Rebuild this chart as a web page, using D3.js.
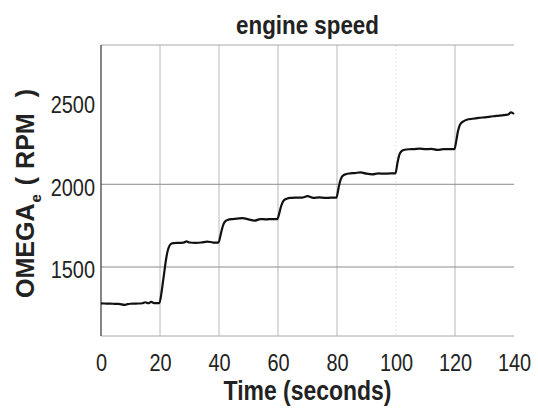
<!DOCTYPE html>
<html>
<head>
<meta charset="utf-8">
<script src="https://cdn.jsdelivr.net/npm/d3@7"></script>
<style>
  body { margin: 0; background: #fff; }
  text { font-family: "Liberation Sans", Arial, sans-serif; fill: #222; }
</style>
</head>
<body>
<div id="chart"></div>
<script>
// set the dimensions and margins of the graph
var margin = { top: 45, right: 24, bottom: 74, left: 101 },
  width = 538 - margin.left - margin.right,
  height = 410 - margin.top - margin.bottom;

// data
var time = [0, 2, 4, 6, 8, 9, 10, 12, 14, 15, 16, 17, 18, 19.8,
  20.5, 21, 21.5, 22, 22.5, 23, 23.5, 24.5, 26, 28, 29, 30, 32, 34, 36, 38, 39.8,
  40.5, 41, 41.5, 42, 43, 44.5, 46, 48, 50, 52, 54, 56, 58, 59.8,
  60.5, 61, 61.5, 62, 63, 64.5, 66, 68, 70, 72, 74, 76, 78, 79.8,
  80.5, 81, 81.5, 82, 83, 84.5, 86, 88, 90, 92, 94, 96, 98, 99.8,
  100.5, 101, 101.5, 102, 103, 104.5, 106, 108, 110, 112, 114, 116, 118, 119.8,
  120.5, 121, 121.5, 122, 123, 124, 126, 128, 130, 132, 134, 136, 138, 139, 140];
var rpm = [1280, 1279, 1278, 1277, 1271, 1276, 1278, 1279, 1281, 1287, 1281, 1289, 1282, 1282,
  1345, 1410, 1475, 1540, 1590, 1620, 1636, 1644, 1646, 1647, 1655, 1648, 1646, 1648, 1654, 1648, 1647,
  1690, 1728, 1758, 1774, 1785, 1790, 1792, 1796, 1788, 1780, 1790, 1788, 1790, 1790,
  1830, 1864, 1888, 1903, 1913, 1918, 1920, 1919, 1928, 1918, 1921, 1918, 1919, 1919,
  1975, 2015, 2040, 2052, 2061, 2066, 2068, 2072, 2064, 2060, 2066, 2064, 2066, 2066,
  2130, 2170, 2192, 2202, 2209, 2212, 2213, 2216, 2212, 2214, 2208, 2212, 2212, 2212,
  2270, 2320, 2352, 2368, 2382, 2390, 2396, 2401, 2405, 2409, 2414, 2417, 2422, 2435, 2425];
var xTicks = [0, 20, 40, 60, 80, 100, 120, 140];
var yTicks = [1500, 2000, 2500];
var yGrid = [1500, 2000];
var xGrid = [20, 40, 60, 80, 100, 120];

var narrow = 0.83; // the source font is a condensed one

var svg = d3
  .select("#chart")
  .append("svg")
  .attr("width", 538)
  .attr("height", 410);

var canvas = svg
  .append("g")
  .attr("transform", "translate(" + margin.left + "," + margin.top + ")");

var x = d3.scaleLinear().domain([0, 140]).range([0, width]);
var y = d3.scaleLinear().domain([1083, 2842]).range([height, 0]);

// grid lines
canvas
  .selectAll(".vgrid")
  .data(xGrid)
  .enter()
  .append("line")
  .attr("class", "vgrid")
  .attr("x1", (d) => x(d))
  .attr("x2", (d) => x(d))
  .attr("y1", 0)
  .attr("y2", height)
  .attr("stroke", (d) => (d == 100 ? "#e4e4e4" : "#b8b8b8"))
  .attr("stroke-dasharray", (d) => (d == 100 ? "2,2" : null))
  .attr("stroke-width", 1);

canvas
  .selectAll(".hgrid")
  .data(yGrid)
  .enter()
  .append("line")
  .attr("class", "hgrid")
  .attr("x1", 0)
  .attr("x2", width)
  .attr("y1", (d) => y(d))
  .attr("y2", (d) => y(d))
  .attr("stroke", "#8a8a8a")
  .attr("stroke-width", 1);

// box: top and bottom gray, left dark
canvas.append("line").attr("x1", 0).attr("x2", width).attr("y1", 0).attr("y2", 0)
  .attr("stroke", "#a8a8a8");
canvas.append("line").attr("x1", 0).attr("x2", width).attr("y1", height).attr("y2", height)
  .attr("stroke", "#a8a8a8");
canvas.append("line").attr("x1", 0).attr("x2", 0).attr("y1", 0).attr("y2", height)
  .attr("stroke", "#333").attr("stroke-width", 1.2);

// axes (labels only)
var xAxis = canvas
  .append("g")
  .attr("transform", "translate(0," + height + ")")
  .call(d3.axisBottom(x).tickValues(xTicks).tickFormat(d3.format("d")).tickSize(0).tickPadding(18));
xAxis.select(".domain").remove();
xAxis.selectAll("text")
  .style("font-size", "24px")
  .attr("fill", "#222")
  .attr("transform", "scale(" + narrow + ",1)");

var yAxis = canvas
  .append("g")
  .call(d3.axisLeft(y).tickValues(yTicks).tickFormat(d3.format("d")).tickSize(0));
yAxis.select(".domain").remove();
yAxis.selectAll("text")
  .style("font-size", "24px")
  .attr("fill", "#222")
  .attr("x", -6 / narrow)
  .attr("dy", "0.45em")
  .attr("transform", "scale(" + narrow + ",1)");

// engine speed line
var pts = time.map((t, i) => [t, rpm[i]]);
canvas
  .append("path")
  .datum(pts)
  .attr("d", d3.line().x((d) => x(d[0])).y((d) => y(d[1])).curve(d3.curveMonotoneX))
  .attr("fill", "none")
  .attr("stroke", "#111")
  .attr("stroke-width", 2.2);

// title
svg
  .append("g")
  .attr("transform", "translate(" + (margin.left + width / 2) + ",34) scale(0.86,1)")
  .append("text")
  .attr("text-anchor", "middle")
  .style("font-size", "26px")
  .style("font-weight", "bold")
  .text("engine speed");

// x label
svg
  .append("g")
  .attr("transform", "translate(" + (margin.left + width / 2) + ",400) scale(0.85,1)")
  .append("text")
  .attr("text-anchor", "middle")
  .style("font-size", "27px")
  .style("font-weight", "bold")
  .text("Time (seconds)");

// y label with subscript (wide spacing like the original)
var ylab = svg
  .append("text")
  .attr("transform", "translate(34,298) rotate(-90)")
  .attr("text-anchor", "start")
  .style("font-size", "25px")
  .style("font-weight", "bold");
ylab.append("tspan").text("OMEGA");
ylab.append("tspan").attr("dy", 7).attr("dx", 1).style("font-size", "15px").text("e");
ylab.append("tspan").attr("dy", -7).attr("dx", 9).text("(");
ylab.append("tspan").attr("dx", 8).text("RPM");
ylab.append("tspan").attr("dx", 16).text(")");
</script>
</body>
</html>
